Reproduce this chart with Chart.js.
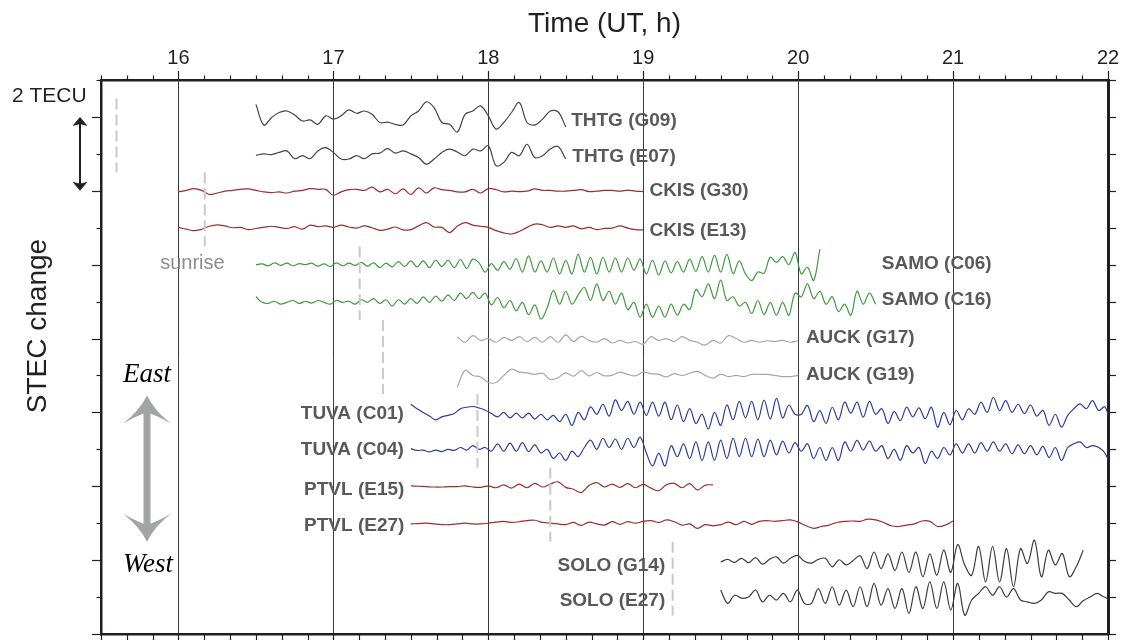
<!DOCTYPE html>
<html>
<head>
<meta charset="utf-8">
<script src="https://cdn.jsdelivr.net/npm/chart.js@4.4.1/dist/chart.umd.min.js"></script>
<style>
  html, body { margin: 0; padding: 0; background: #fff; }
  #wrap { width: 1123px; height: 640px; position: relative; }
</style>
</head>
<body>
<div id="wrap"><canvas id="stecChart"></canvas></div>
<script>
// hour labels along the top axis
const hourTicks = [16, 17, 18, 19, 20, 21, 22];

// STEC deviations (TECU), one array per receiver/satellite pair
const thtgG09 = [0.34, -0.22, -0.02, 0.12, 0.16, 0.05, -0.11, -0.08, -0.2, 0.03, -0.06, 0.03, 0.19, 0.1, 0.16, 0.07, -0.15, -0.14, -0.2, -0.22, 0.03, 0.16, 0.41, 0.25, -0.15, -0.2, -0.41, 0.07, 0.16, 0.3, 0.03, -0.33, -0.15, 0.12, 0.39, -0.15, -0.22, -0.06, 0.16, 0.14, -0.27];
const thtgE07 = [-0.04, 0, -0.02, 0.04, 0.08, -0.13, -0.05, -0.13, 0.08, 0.17, 0.04, -0.14, -0.14, -0.05, -0.13, 0, 0.02, 0.14, 0.02, 0.08, 0, -0.1, -0.28, -0.14, 0.04, 0.13, 0.05, -0.05, 0.13, 0.08, 0.22, -0.32, -0.23, 0.04, -0.05, 0.26, -0.1, -0.05, 0.13, 0.2, -0.14];
const ckisG30 = [-0.03, 0.01, 0.06, 0.01, -0.1, -0.06, -0.01, 0.01, 0.04, 0.05, 0.01, -0.03, -0.05, -0.03, -0.06, -0.01, 0.01, 0.06, 0.04, 0.04, -0.12, -0.03, 0.03, 0.04, 0.01, 0.1, -0.03, 0.04, -0.08, 0.05, -0.1, 0.08, -0.06, 0.08, 0.03, 0.01, -0.03, -0.03, 0.04, -0.06, 0.06, 0.03, -0.03, -0.01, -0.02, -0.01, 0.05, 0.01, 0.01, -0.01, -0.01, 0.01, 0.03, -0.02, -0.01, 0.01, 0.01, -0.01, 0.02, -0.01, -0.02];
const ckisE13 = [0.01, -0.04, -0.08, -0.04, 0.04, 0.08, 0.05, 0, 0.01, -0.05, -0.02, 0.01, 0.04, 0.01, -0.02, 0.03, -0.04, 0.07, 0.03, 0.05, 0.01, 0.07, 0.02, -0.01, 0.05, 0, -0.07, -0.04, 0.02, -0.06, -0.05, 0.05, 0.14, 0.02, 0.01, -0.13, 0.04, 0.14, 0.07, 0.04, 0.01, -0.08, -0.14, -0.17, -0.1, 0.01, 0.1, 0.08, 0.01, 0.05, 0.01, 0.05, -0.03, 0.01, -0.05, -0.02, -0.01, 0.05, -0.01, -0.05, -0.06];
const samoC06 = [0.0, 0.02, -0.03, 0.05, -0.02, 0.04, -0.03, 0.03, 0.0, 0.04, -0.04, 0.02, -0.05, 0.05, -0.03, 0.04, -0.02, 0.06, -0.04, 0.05, -0.08, 0.04, -0.06, 0.08, -0.05, 0.1, -0.06, 0.1, -0.08, 0.12, -0.05, 0.12, -0.08, 0.14, -0.1, 0.15,
  0.05, -0.2, 0.03, -0.15, 0.08, -0.12, 0.16, -0.2, 0.24, -0.2, 0.1, -0.2, 0.18, -0.25, 0.12, -0.25, 0.28, -0.2, 0.2, -0.25, 0.2, -0.2, 0.18, -0.2, 0.18, -0.15, 0.15,
  -0.25, 0.12, -0.28, 0.1, -0.22, 0.08, -0.2, 0.15, -0.18, 0.22, -0.2, 0.25, -0.2, 0.28, -0.24,
  0.1, -0.25, -0.43, -0.2, -0.23, 0.2, 0.06, 0.22, 0.0, 0.33, -0.25, -0.07, -0.43, 0.42];
const samoC16 = [0.1, -0.05, -0.08, -0.02, -0.1, -0.05, 0.0, -0.08, -0.02, -0.07, 0.0, -0.05, -0.1, 0.0, -0.05, -0.02, -0.1, 0.02, -0.05, 0.05, -0.08, 0.02, -0.15, 0.02, -0.1, 0.05, -0.08, 0.1, -0.05, 0.12, -0.02, 0.15, 0.0, 0.2, 0.05, 0.22,
  0.05, 0.2, -0.12, 0.08, -0.2, 0.0, -0.28, -0.05, -0.38, -0.12, -0.5, -0.2,
  0.27, -0.1, 0.25, -0.1, 0.15, 0.35, 0.0, 0.45, 0.0, 0.25, -0.1, 0.2, -0.25, -0.05, -0.45, -0.1, -0.45, -0.15, -0.45, -0.1, -0.4, -0.1, -0.25,
  0.3, 0.1, 0.45, 0.05, 0.55, 0.0, 0.1, -0.15, -0.05, -0.35, 0.0, -0.38, -0.05, -0.4, -0.05, -0.4, 0.2, 0.1, 0.45, 0.05, 0.25, -0.1, 0.1, -0.3, -0.1, -0.4, 0.25, -0.1, 0.2, -0.1];
const auckG17 = [0.05, -0.1, 0.08, -0.05, 0.0, -0.1, 0.03, -0.05, 0.05, -0.08, 0.03, -0.1, 0.05, -0.1, 0.1, -0.08, 0.06, -0.05, -0.1, 0.0, -0.12, -0.05, -0.12, -0.08, -0.15, 0.05, -0.05, 0.0, -0.08, 0.05, -0.05, -0.1, -0.18, -0.05, -0.12, 0.08, 0.0, -0.1, -0.05, -0.1, -0.06, -0.08, -0.05, -0.1, -0.06];
const auckG19 = [-0.34, 0.11, -0.03, -0.07, -0.22, -0.22, -0.03, 0.14, 0.06, 0.04, 0, 0.03, -0.14, -0.09, 0.04, -0.05, 0.1, -0.04, 0.05, -0.04, -0.02, 0.06, 0, -0.04, 0.06, 0.02, 0, -0.07, 0.02, -0.03, 0.03, 0.08, -0.03, -0.1, 0, -0.06, -0.03, -0.06, 0, 0, 0, -0.03, -0.06, -0.06, -0.03];
const tuvaC01 = [0.22, 0.1, 0.0, -0.1, -0.2, -0.12, -0.08, -0.03, 0.1, 0.14, 0.16, 0.12, 0.06,
  -0.03, -0.12, 0.0, -0.15, -0.02, -0.15, -0.02, -0.18, -0.05, -0.2, -0.08, -0.25, -0.05,
  -0.35, 0.0, -0.2, 0.15, -0.05, 0.22, -0.1, 0.34, 0.05, 0.3, -0.05, 0.28,
  -0.08, 0.28, -0.1, 0.28, -0.2, 0.2, -0.25, 0.1, -0.3, -0.05, -0.45, 0.0, -0.35,
  0.2, -0.2, 0.3, -0.15, 0.3, -0.2, 0.33, -0.18, 0.38, -0.15, 0.2, -0.05,
  -0.05, 0.19, -0.25, 0.05, -0.3, 0.14, -0.2, 0.28, -0.02, 0.28, -0.13, 0.3, -0.05, 0.1, -0.3, 0.02, -0.22, 0.14, -0.12, 0.12,
  -0.17, 0.14, -0.4, 0.0, -0.33, 0.05, -0.2, 0.1, -0.05, 0.28, 0.0, 0.41, 0.05, 0.32, 0.0, 0.22, -0.03, 0.2, -0.1, 0.05,
  -0.35, -0.05, -0.4, -0.08, 0.1, 0.23, 0.1, 0.32, 0.05, 0.15, -0.35];
const tuvaC04 = [0.02, -0.03, -0.02, -0.07, -0.02, -0.06, 0.0, -0.03, 0.05, -0.02, 0.1, 0.0, 0.05,
  -0.05, 0.15, -0.05, 0.17, -0.05, 0.18, -0.06, 0.12, -0.1, 0.0, -0.25, -0.1, -0.3,
  -0.05, -0.2, 0.05, 0.25, 0.0, 0.3, 0.05, 0.28, 0.0, 0.3, 0.05, 0.33,
  -0.1, -0.45, -0.1, -0.45, 0.1, -0.2, 0.15, -0.25, 0.2, -0.3, 0.2, -0.3, 0.25,
  -0.25, 0.3, -0.2, 0.3, -0.2, 0.28, -0.2, 0.25, -0.15, 0.22, -0.1, 0.18,
  -0.05, 0.15, -0.25, 0.05, -0.3, 0.05, -0.3, 0.2, -0.05, 0.24, -0.02, 0.22, -0.05, 0.1, -0.25, 0.0, -0.3, 0.1, -0.1, 0.05,
  -0.39, -0.05, -0.25, 0.05, -0.15, 0.15, -0.1, 0.15, -0.1, 0.18, -0.05, 0.2, -0.05, 0.15, -0.12, 0.12, -0.12, 0.1, -0.15, 0.08,
  -0.22, 0.05, -0.3, 0.05, 0.15, 0.2, 0.05, 0.1, 0.05, -0.1, -0.5];
const ptvlE15 = [0.01, 0, -0.01, -0.02, -0.02, -0.01, -0.01, 0.01, -0.02, -0.03,
  0.01, -0.04, 0.04, -0.05, 0.06, -0.04, 0.08, -0.02, 0.06, 0.12, -0.03, -0.08, -0.17, 0.02, 0.1, -0.02, 0.06, -0.03, 0.07, -0.04, 0.05, -0.05, -0.12, 0.04, 0.08, -0.04, 0.07, -0.1, 0.03, 0.04];
const ptvlE27 = [-0.02, -0.01, 0, -0.02, -0.04, -0.04, -0.02, 0, -0.02, -0.02, 0, 0.03, 0.05, 0.02, 0.04, 0.07, 0.08, 0.02, 0, -0.02, -0.04, 0.02, -0.06, 0.03, -0.02, -0.05, 0.04, -0.03, 0.04, 0, 0.05, 0.07, 0.02, 0.09, 0.04, -0.05, -0.02, -0.14, -0.04, -0.07, -0.04, 0.03, -0.04, 0.05, -0.03, 0.05, 0.07, 0.05, 0.07, 0.09, 0.03, -0.07, -0.14, -0.09, -0.05, 0.02, 0.05, 0.06, 0.05, 0.11, 0.09, 0.02, -0.07, -0.09, -0.05, -0.02, 0.06, 0.05, -0.09, -0.05, 0.06];
const soloG14 = [-0.02, 0.05, -0.03, 0.08, -0.04, 0.1, -0.08, 0.05, 0.12, -0.05, 0.08, 0.16, 0.0, -0.05, 0.05, 0.08, -0.15, 0.04, -0.1, 0.02, 0.15, -0.2, 0.25, -0.2, 0.2, -0.25, 0.25, -0.3, 0.25, -0.42, 0.2, -0.38, 0.3, -0.3, 0.45, -0.1, -0.38, 0.4, -0.56, 0.4, -0.56, 0.34, -0.69, 0.34, -0.06, 0.57, -0.42, 0.3, -0.1, 0.21, -0.42, -0.15, 0.3];
const soloE27 = [0.19, -0.17, 0.05, -0.03, 0.0, 0.19, -0.13, 0.05, -0.08, 0.1, -0.13, 0.19, -0.17, -0.17, 0.23, -0.17, 0.28, -0.22, 0.19, -0.26, 0.28, -0.26, 0.37, -0.22, 0.23, -0.31, 0.23, -0.44, 0.28, -0.31, 0.41, -0.31, 0.41, -0.35, 0.37, -0.49, -0.08, 0.1, 0.28, 0.05, 0.28, 0.0, 0.23, -0.08, -0.13, -0.17, -0.08, 0.14, 0.1, 0.1, -0.08, -0.26, -0.1, 0.0, 0.1, 0.0, -0.08];

const traceNames = ['THTG (G09)', 'THTG (E07)', 'CKIS (G30)', 'CKIS (E13)', 'SAMO (C06)', 'SAMO (C16)', 'AUCK (G17)', 'AUCK (G19)', 'TUVA (C01)', 'TUVA (C04)', 'PTVL (E15)', 'PTVL (E27)', 'SOLO (G14)', 'SOLO (E27)'];
const traceValues = [thtgG09, thtgE07, ckisG30, ckisE13, samoC06, samoC16, auckG17, auckG19, tuvaC01, tuvaC04, ptvlE15, ptvlE27, soloG14, soloE27];
const traceStart = [16.5, 16.5, 16.0, 16.0, 16.5, 16.5, 17.8, 17.8, 17.5, 17.5, 17.5, 17.5, 19.5, 19.5]; // UT hours
const traceStep = [0.05, 0.05, 0.05, 0.05, 0.04, 0.04, 0.05, 0.05, 0.04, 0.04, 0.05, 0.05, 0.045, 0.045];
const traceOffset = [14, 13, 12, 11, 10, 9.03, 8, 7.03, 6, 5, 4, 3, 1.97, 1]; // TECU, stacking offset

// sunrise times (UT) and the stretch of the axis each marker covers
const sunriseTime = [15.6, 16.17, 17.17, 17.32, 17.93, 18.4, 19.19];
const sunriseTop = [14.5, 12.5, 10.5, 8.5, 6.5, 4.5, 2.5];
const sunriseBottom = [12.5, 10.5, 8.5, 6.5, 4.5, 2.5, 0.5];

// ---- styling ----
const stationColor = {
  THTG: '#444444', CKIS: '#9d2d2d', SAMO: '#3f9a3f', AUCK: '#a6a6a6',
  TUVA: '#2f3c9c', PTVL: '#9d2d2d', SOLO: '#3c3c3c'
};
const INK = '#231f20';
const SANS = '"Liberation Sans", Arial, Helvetica, sans-serif';

// where each trace label sits (data coordinates) and how it is aligned
const labelPlacement = [
  [18.535, 13.95, 'left'], [18.542, 12.97, 'left'],
  [19.04, 12.03, 'left'], [19.04, 10.97, 'left'],
  [20.54, 10.08, 'left'], [20.54, 9.09, 'left'],
  [20.05, 8.06, 'left'], [20.05, 7.07, 'left'],
  [17.455, 6.01, 'right'], [17.455, 5.02, 'right'],
  [17.458, 3.95, 'right'], [17.458, 2.96, 'right'],
  [19.142, 1.89, 'right'], [19.142, 0.95, 'right']
];

const datasets = [];
sunriseTime.forEach((t, i) => {
  datasets.push({
    data: [{x: t, y: sunriseTop[i]}, {x: t, y: sunriseBottom[i]}],
    borderColor: '#c9c9c9', borderWidth: 2, borderDash: [11, 5],
    pointRadius: 0, tension: 0
  });
});
traceValues.forEach((vals, i) => {
  datasets.push({
    label: traceNames[i],
    data: vals.map((v, k) => ({x: traceStart[i] + k * traceStep[i], y: traceOffset[i] + v})),
    borderColor: stationColor[traceNames[i].slice(0, 4)],
    borderWidth: 1.2, pointRadius: 0, tension: 0.35
  });
});

function isHour(v) {
  return Math.abs(v - Math.round(v)) < 1e-6;
}

function line(ctx, x1, y1, x2, y2) {
  ctx.beginPath(); ctx.moveTo(x1, y1); ctx.lineTo(x2, y2); ctx.stroke();
}

// swept-back arrow head; dir = -1 points up, +1 points down
function grayHead(ctx, cx, tipY, dir) {
  ctx.beginPath();
  ctx.moveTo(cx, tipY);
  ctx.quadraticCurveTo(cx + 8, tipY - dir * 16, cx + 24, tipY - dir * 28);
  ctx.quadraticCurveTo(cx + 8, tipY - dir * 19, cx, tipY - dir * 17);
  ctx.quadraticCurveTo(cx - 8, tipY - dir * 19, cx - 24, tipY - dir * 28);
  ctx.quadraticCurveTo(cx - 8, tipY - dir * 16, cx, tipY);
  ctx.closePath();
  ctx.fill();
}

const decorations = {
  id: 'decorations',
  afterDraw(chart) {
    const {ctx, chartArea: a, scales: {x, y}} = chart;
    ctx.save();

    // tick marks on all four sides
    ctx.strokeStyle = INK;
    ctx.lineWidth = 1.2;
    x.ticks.forEach(t => {
      const px = Math.round(x.getPixelForValue(t.value)) + 0.5;
      line(ctx, px, a.top, px, a.top - (isHour(t.value) ? 9 : 4.5));
      line(ctx, px, a.bottom, px, a.bottom + 6);
    });
    for (let v = 0; v <= 15; v++) {
      const py = Math.round(y.getPixelForValue(v)) + 0.5;
      line(ctx, a.left, py, a.left - (v % 2 === 0 ? 9 : 4.5), py);
      line(ctx, a.right, py, a.right + 8, py);
    }

    // hour labels and axis titles
    ctx.fillStyle = INK;
    ctx.textBaseline = 'alphabetic';
    ctx.textAlign = 'center';
    ctx.font = '20px ' + SANS;
    hourTicks.forEach(h => ctx.fillText(String(h), x.getPixelForValue(h), 63.5));
    ctx.font = '28px ' + SANS;
    ctx.fillText('Time (UT, h)', (a.left + a.right) / 2, 32);
    ctx.save();
    ctx.translate(46, 326);
    ctx.rotate(-Math.PI / 2);
    ctx.fillText('STEC change', 0, 0);
    ctx.restore();

    // 2 TECU scale bar
    ctx.textAlign = 'left';
    ctx.font = '21px ' + SANS;
    ctx.fillText('2 TECU', 12, 101.5);
    const bx = 80, by1 = y.getPixelForValue(14), by2 = y.getPixelForValue(12);
    ctx.lineWidth = 2;
    line(ctx, bx, by1 + 6, bx, by2 - 6);
    ctx.beginPath();
    ctx.moveTo(bx, by1); ctx.lineTo(bx + 7.5, by1 + 9); ctx.lineTo(bx, by1 + 7); ctx.lineTo(bx - 7.5, by1 + 9);
    ctx.closePath(); ctx.fill();
    ctx.beginPath();
    ctx.moveTo(bx, by2); ctx.lineTo(bx + 7.5, by2 - 9); ctx.lineTo(bx, by2 - 7); ctx.lineTo(bx - 7.5, by2 - 9);
    ctx.closePath(); ctx.fill();

    // East / West arrow
    const ax = a.left + 46, aTop = y.getPixelForValue(6.46), aBot = y.getPixelForValue(2.5);
    ctx.fillStyle = '#a3a4a6';
    ctx.fillRect(ax - 3.5, aTop + 15, 7, aBot - aTop - 30);
    grayHead(ctx, ax, aTop, -1);
    grayHead(ctx, ax, aBot, 1);
    ctx.fillStyle = '#000';
    ctx.textAlign = 'center';
    ctx.font = 'italic 27px "Liberation Serif", "Times New Roman", serif';
    ctx.fillText('East', ax, 381.5);
    ctx.fillText('West', ax + 1, 571.5);

    // sunrise note, centred just left of the CKIS marker
    ctx.fillStyle = '#8c8c8c';
    ctx.font = '20px ' + SANS;
    ctx.fillText('sunrise', x.getPixelForValue(16.09), y.getPixelForValue(9.87));

    // trace labels
    ctx.fillStyle = '#58595b';
    ctx.font = 'bold 19px ' + SANS;
    labelPlacement.forEach((p, i) => {
      ctx.textAlign = p[2];
      ctx.fillText(traceNames[i], x.getPixelForValue(p[0]), y.getPixelForValue(p[1]) + 6.8);
    });

    ctx.restore();
  }
};

new Chart(document.getElementById('stecChart'), {
  type: 'line',
  data: {datasets: datasets},
  options: {
    responsive: true,
    maintainAspectRatio: false,
    animation: false,
    events: [],
    layout: {padding: 0},
    plugins: {legend: {display: false}, tooltip: {enabled: false}},
    scales: {
      x: {
        type: 'linear', position: 'top', min: 15.5, max: 22,
        afterBuildTicks: s => {
          const t = [];
          for (let k = 93; k <= 132; k++) t.push({value: k / 6});
          s.ticks = t;
        },
        afterFit: s => { s.height = 80; },
        ticks: {display: false},
        grid: {
          drawTicks: false, lineWidth: 1,
          color: c => (c.tick && isHour(c.tick.value) ? '#3a3a3a' : 'rgba(0,0,0,0)')
        },
        border: {display: true, color: INK, width: 2.5}
      },
      x2: {
        type: 'linear', position: 'bottom', min: 15.5, max: 22,
        afterFit: s => { s.height = 6; },
        ticks: {display: false},
        grid: {display: false},
        border: {display: true, color: INK, width: 2.5}
      },
      y: {
        type: 'linear', position: 'left', min: 0, max: 15,
        afterFit: s => { s.width = 101; },
        ticks: {display: false, stepSize: 1},
        grid: {display: false},
        border: {display: true, color: INK, width: 2.5}
      },
      y2: {
        type: 'linear', position: 'right', min: 0, max: 15,
        afterFit: s => { s.width = 15; },
        ticks: {display: false},
        grid: {display: false},
        border: {display: true, color: INK, width: 3}
      }
    }
  },
  plugins: [decorations]
});
</script>
</body>
</html>
